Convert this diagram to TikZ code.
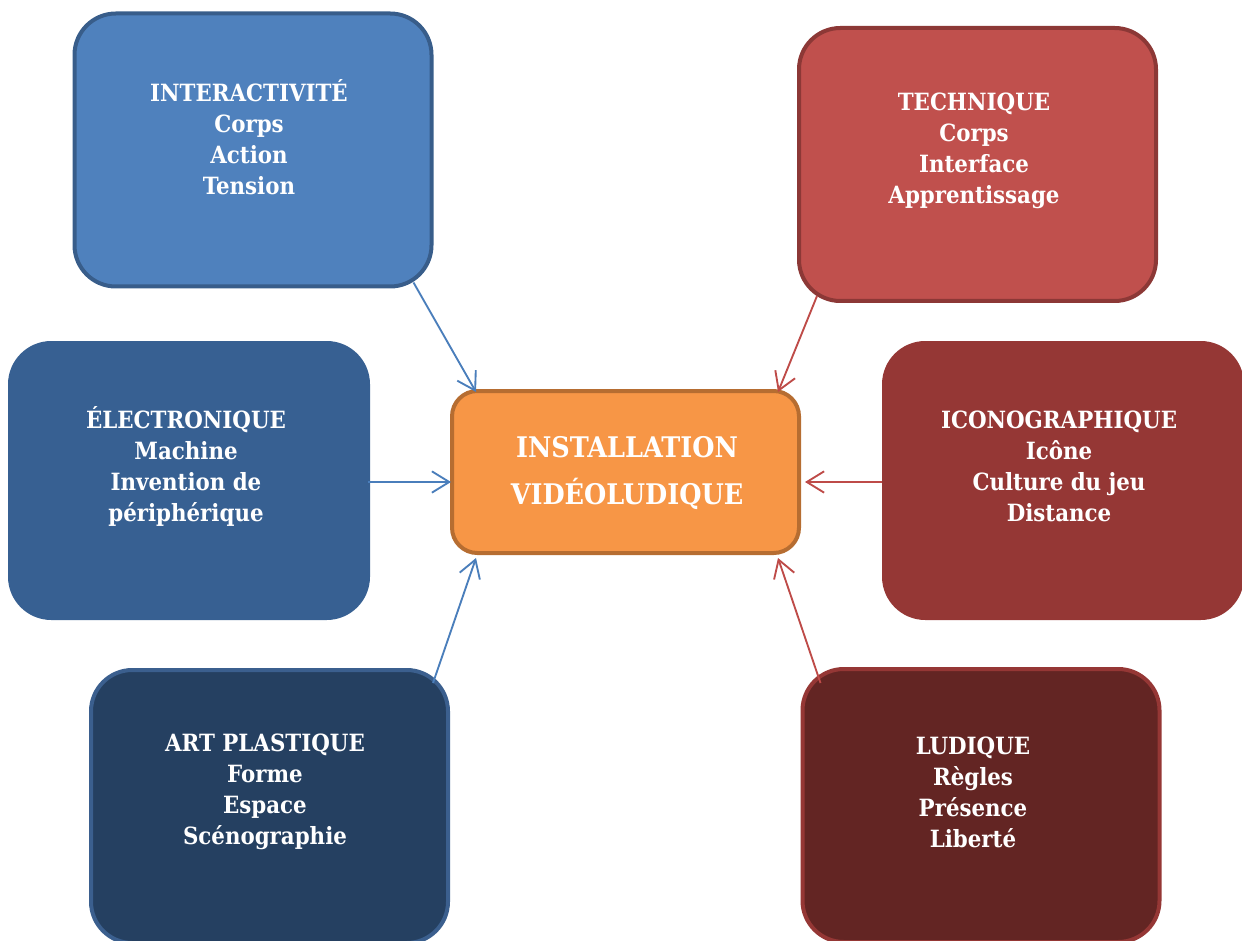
\documentclass[tikz,border=0pt]{standalone}
\usepackage{fontspec}
\setmainfont{DejaVu Serif Condensed}
\usetikzlibrary{arrows.meta,calc}
\definecolor{bluefill}{HTML}{4F81BD}
\definecolor{blueline}{HTML}{385D8A}
\definecolor{redfill}{HTML}{C0504D}
\definecolor{redline}{HTML}{8C3836}
\definecolor{elecfill}{HTML}{376092}
\definecolor{orfill}{HTML}{F79646}
\definecolor{orline}{HTML}{B66D31}
\definecolor{iconfill}{HTML}{953735}
\definecolor{navyfill}{HTML}{254061}
\definecolor{navyline}{HTML}{3B5F8E}
\definecolor{darkredfill}{HTML}{632523}
\definecolor{bluearrow}{HTML}{4A7EBB}
\definecolor{redarrow}{HTML}{BE4B48}
\tikzset{
  bigbox/.style={rectangle, rounded corners=31pt, line width=3pt, outer sep=0pt,
    inner sep=0pt, minimum width=357*0.75pt, minimum height=273*0.75pt},
  midbox/.style={rectangle, rounded corners=19pt, line width=3pt, outer sep=0pt,
    inner sep=0pt, minimum width=347*0.75pt, minimum height=162*0.75pt,
    fill=orfill, draw=orline},
  boxtext/.style={text=white, align=center, inner sep=0pt,
    font=\bfseries\fontsize{17.8}{23.25}\selectfont},
  midtext/.style={text=white, align=center, inner sep=0pt,
    font=\bfseries\fontsize{21.3}{35.25}\selectfont},
  bluearr/.style={draw=bluearrow, line width=1.4pt, -{Straight Barb[length=13pt,width=16pt]}},
  redarr/.style={draw=redarrow, line width=1.4pt, -{Straight Barb[length=13pt,width=16pt]}}
}
\begin{document}
\begin{tikzpicture}[x=0.75pt, y=-0.75pt]
\useasboundingbox (0,0) rectangle (1242,941);
\clip (0,0) rectangle (1242,941);
% boxes
\node[bigbox, fill=bluefill, draw=blueline] (b1) at (253,150) {};
\node[bigbox, fill=redfill, draw=redline] (b2) at (977.5,164.5) {};
\node[bigbox, fill=elecfill, draw=elecfill, minimum width=358*0.75pt, minimum height=275*0.75pt] (b3) at (189,480.5) {};
\node[midbox] (c) at (625.5,472) {};
\node[bigbox, fill=iconfill, draw=iconfill, minimum width=358*0.75pt, minimum height=275*0.75pt] (b5) at (1063,480.5) {};
\node[bigbox, fill=navyfill, draw=navyline] (b6) at (269.5,806.5) {};
\node[bigbox, fill=darkredfill, draw=iconfill] (b7) at (981,805.5) {};
% texts
\node[boxtext] (t1) at (249,137) {INTERACTIVITÉ\\Corps\\Action\\Tension};
\node[boxtext] (t2) at (974,151) {TECHNIQUE\\Corps\\Interface\\Apprentissage};
\node[boxtext] (t3) at (186,466) {ÉLECTRONIQUE\\Machine\\Invention de\\périphérique};
\node[midtext] (tc) at (627,473) {INSTALLATION\\VIDÉOLUDIQUE};
\node[boxtext] (t5) at (1059,466) {ICONOGRAPHIQUE\\Icône\\Culture du jeu\\Distance};
\node[boxtext] (t6) at (265,792) {ART PLASTIQUE\\Forme\\Espace\\Scénographie};
\node[boxtext] (t7) at (973,792) {LUDIQUE\\Règles\\Présence\\Liberté};
% arrows
\draw[bluearr] ($(b1.south east)+(-18,-4)$) -- ($(c.north west)+(24,1)$);
\draw[redarr] ($(b2.south west)+(18,-5)$) -- ($(c.north east)+(-21,1)$);
\draw[bluearr] ($(b3.east)+(0,1.5)$) -- ($(c.west)+(-1,10)$);
\draw[redarr] ($(b5.west)+(-2,1.5)$) -- ($(c.east)+(6,10)$);
\draw[bluearr] ($(b6.north east)+(-15,13)$) -- ($(c.south west)+(24,5)$);
\draw[redarr] ($(b7.north west)+(18,14)$) -- ($(c.south east)+(-21,5)$);
\end{tikzpicture}
\end{document}
